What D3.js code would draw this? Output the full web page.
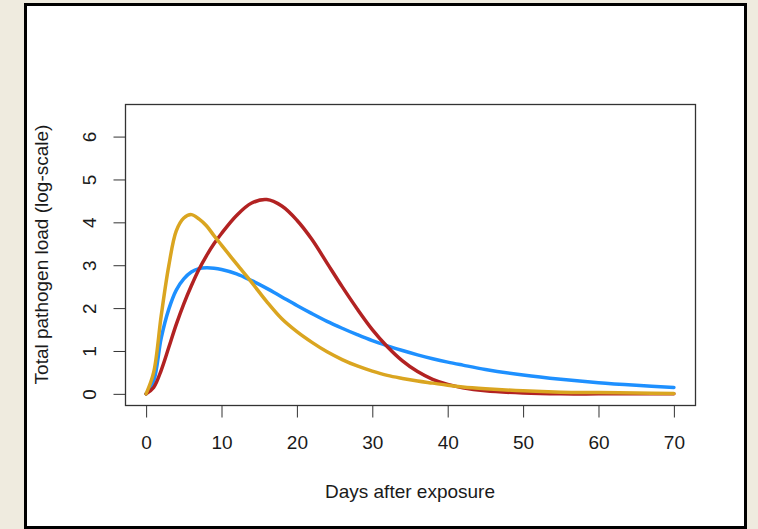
<!DOCTYPE html>
<html>
<head>
<meta charset="utf-8">
<script src="https://cdn.jsdelivr.net/npm/d3@7"></script>
<style>
  html, body { margin: 0; padding: 0; background: #efebdf; }
  svg { display: block; }
  text { font-family: "Liberation Sans", Arial, sans-serif; fill: #1a1a1a; }
</style>
</head>
<body>
<svg id="chart"></svg>
<script>
// Data
const days = [0, 1, 2, 3, 4, 5, 6, 7, 8, 9, 10, 12, 14, 16, 18, 20, 22, 24, 26, 28, 30,
  32, 34, 36, 38, 40, 42, 45, 50, 55, 60, 65, 70];

const blueLoad = [0, 0.3, 1.3, 1.97, 2.42, 2.68, 2.84, 2.92, 2.94, 2.93, 2.9, 2.8, 2.64,
  2.46, 2.26, 2.06, 1.87, 1.69, 1.53, 1.38, 1.24, 1.12, 1.01, 0.91, 0.82, 0.74, 0.67, 0.57,
  0.44, 0.34, 0.26, 0.2, 0.15];

const redLoad = [0, 0.15, 0.55, 1.08, 1.62, 2.1, 2.52, 2.9, 3.22, 3.5, 3.74, 4.16, 4.45,
  4.53, 4.38, 4.05, 3.6, 3.05, 2.5, 1.98, 1.5, 1.1, 0.77, 0.52, 0.34, 0.22, 0.14, 0.07,
  0.02, 0, 0, 0, 0];

const goldLoad = [0, 0.5, 1.82, 2.98, 3.8, 4.1, 4.18, 4.08, 3.92, 3.69, 3.47, 3.03, 2.6,
  2.15, 1.75, 1.45, 1.2, 0.98, 0.8, 0.65, 0.53, 0.43, 0.36, 0.3, 0.25, 0.2, 0.16, 0.12,
  0.07, 0.04, 0.03, 0.02, 0.01];

const xTicks = [0, 10, 20, 30, 40, 50, 60, 70];
const yTicks = [0, 1, 2, 3, 4, 5, 6];

const series = [
  {name: "blue", values: blueLoad, color: "#1e90ff"},
  {name: "red", values: redLoad, color: "#b22222"},
  {name: "gold", values: goldLoad, color: "#daa520"}
];

// Size and plot box
const W = 758, H = 529;
const box = {left: 125, right: 695, top: 104, bottom: 405};

const svg = d3.select("#chart")
  .attr("width", W)
  .attr("height", H);

// White panel with black frame
svg.append("rect")
  .attr("x", 25.5).attr("y", 4.5)
  .attr("width", 720).attr("height", 523)
  .attr("fill", "#ffffff")
  .attr("stroke", "#000")
  .attr("stroke-width", 3);

// Scales (R style 4% padding)
const x = d3.scaleLinear().domain([-2.8, 72.8]).range([box.left, box.right]);
const y = d3.scaleLinear().domain([-0.26, 6.76]).range([box.bottom, box.top]);

// Lines
const line = d3.line()
  .x((d, i) => x(days[i]))
  .y(d => y(Math.max(0, d)))
  .curve(d3.curveCatmullRom.alpha(0.5));

svg.selectAll(".curve")
  .data(series)
  .enter()
  .append("path")
  .attr("class", "curve")
  .attr("d", d => line(d.values))
  .attr("fill", "none")
  .attr("stroke", d => d.color)
  .attr("stroke-width", 3.5)
  .attr("stroke-linejoin", "round")
  .attr("stroke-linecap", "round");

// Plot frame
svg.append("rect")
  .attr("x", box.left + 0.5).attr("y", box.top + 0.5)
  .attr("width", box.right - box.left).attr("height", box.bottom - box.top)
  .attr("fill", "none")
  .attr("stroke", "#333")
  .attr("stroke-width", 1.3);

// X axis
const xAxis = svg.append("g")
  .attr("transform", `translate(0,${box.bottom + 0.5})`)
  .call(d3.axisBottom(x).tickValues(xTicks).tickSize(12).tickPadding(18).tickSizeOuter(0));
xAxis.select(".domain")
  .attr("d", `M${x(0)},0H${x(70)}`)
  .attr("stroke", "#333");
xAxis.selectAll(".tick line").attr("stroke", "#333");
xAxis.selectAll(".tick text")
  .style("font-size", "19px")
  .style("font-family", "'Liberation Sans', Arial, sans-serif")
  .attr("fill", "#1a1a1a");

// Y axis
const yAxis = svg.append("g")
  .attr("transform", `translate(${box.left + 0.5},0)`)
  .call(d3.axisLeft(y).tickValues(yTicks).tickFormat(d3.format("d")).tickSize(12).tickSizeOuter(0));
yAxis.select(".domain")
  .attr("d", `M0,${y(0)}V${y(6)}`)
  .attr("stroke", "#333");
yAxis.selectAll(".tick line").attr("stroke", "#333");
yAxis.selectAll(".tick text")
  .attr("x", null).attr("dy", null)
  .attr("text-anchor", "middle")
  .attr("dominant-baseline", "central")
  .attr("transform", "translate(-36,0) rotate(-90)")
  .style("font-size", "19px")
  .style("font-family", "'Liberation Sans', Arial, sans-serif")
  .attr("fill", "#1a1a1a");

// Axis titles
svg.append("text")
  .attr("x", (box.left + box.right) / 2)
  .attr("y", 498)
  .attr("text-anchor", "middle")
  .style("font-size", "19px")
  .text("Days after exposure");

svg.append("text")
  .attr("transform", `translate(48,${(box.top + box.bottom) / 2}) rotate(-90)`)
  .attr("text-anchor", "middle")
  .style("font-size", "19px")
  .text("Total pathogen load (log-scale)");
</script>
</body>
</html>
